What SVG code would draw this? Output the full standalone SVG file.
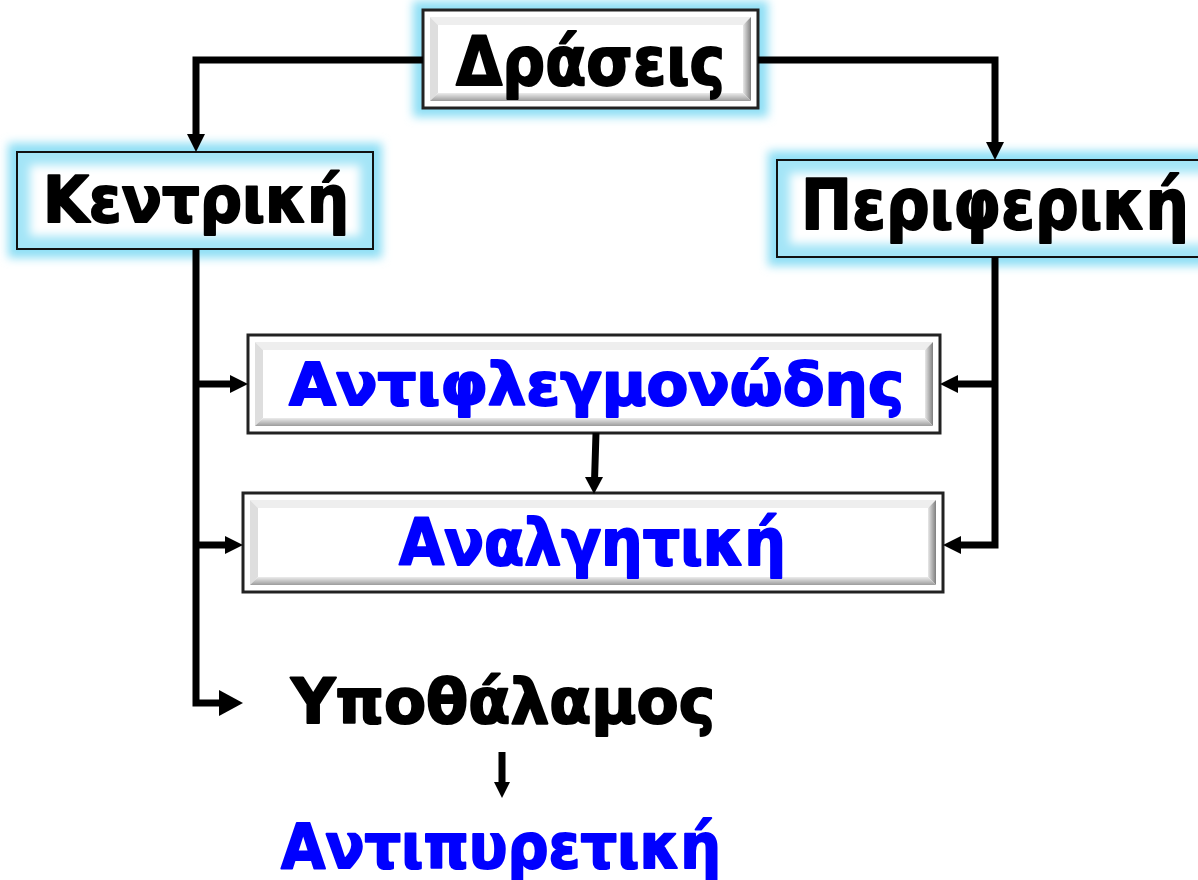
<svg xmlns="http://www.w3.org/2000/svg" width="1198" height="880" viewBox="0 0 1198 880">
<defs>
<style>
text{font-family:"DejaVu Sans","Liberation Sans",sans-serif;font-weight:bold;stroke-linejoin:round;}
.blk{fill:#000;stroke:#000;stroke-width:2;}
.blu{fill:#0000ff;stroke:#0000ff;stroke-width:2;}
.outer{fill:#fff;stroke:#222;stroke-width:3;}
.top{fill:#eeeeee;}
.left{fill:#dedede;}
.right{fill:url(#gr);}
.bottom{fill:url(#gb);}
.face{fill:#ffffff;}
.glow{fill:#8fdff5;filter:url(#blur6);}
.gbox{fill:#a4e5f7;stroke:#111;stroke-width:2;}
.gin{fill:#fff;filter:url(#blur5);}
.conn{fill:none;stroke:#000;stroke-width:7;stroke-linejoin:miter;}
.ah{fill:#000;}
</style>
<linearGradient id="gr" x1="0" y1="0" x2="1" y2="0"><stop offset="0" stop-color="#e8e8e8"/><stop offset="1" stop-color="#7f7f7f"/></linearGradient>
<linearGradient id="gb" x1="0" y1="0" x2="0" y2="1"><stop offset="0" stop-color="#ececec"/><stop offset="1" stop-color="#9c9c9c"/></linearGradient>
<filter id="blur6" x="-20%" y="-40%" width="140%" height="180%"><feGaussianBlur stdDeviation="5"/></filter>
<filter id="blur5" x="-20%" y="-40%" width="140%" height="180%"><feGaussianBlur stdDeviation="5"/></filter>
</defs>

<g id="draseis">
<rect class="glow" x="413" y="1" width="355" height="116"/>
<rect class="outer" x="423" y="10" width="335" height="98"/>
<polygon class="top" points="430,17 751,17 743,25 438,25"/>
<polygon class="left" points="430,17 438,25 438,93 430,101"/>
<polygon class="right" points="751,17 751,101 743,93 743,25"/>
<polygon class="bottom" points="430,101 751,101 743,93 438,93"/>
<rect class="face" x="438" y="25" width="305" height="68"/>
<text class="blk" x="456" y="85" font-size="68" textLength="269" lengthAdjust="spacingAndGlyphs">Δράσεις</text>
</g>

<g id="kentriki">
<rect class="glow" x="8" y="143" width="374" height="115"/>
<rect class="gbox" x="17" y="152" width="356" height="97"/>
<rect class="gin" x="30" y="165" width="330" height="71"/>
<text class="blk" x="43" y="222" font-size="64" textLength="306" lengthAdjust="spacingAndGlyphs">Κεντρική</text>
</g>

<g id="periferiki">
<rect class="glow" x="768" y="151" width="444" height="115"/>
<rect class="gbox" x="777" y="160" width="430" height="97"/>
<rect class="gin" x="790" y="173" width="420" height="71"/>
<text class="blk" x="801" y="229" font-size="70" textLength="388" lengthAdjust="spacingAndGlyphs">Περιφερική</text>
</g>

<g id="antiflegmonodis">
<rect class="outer" x="248" y="335" width="692" height="98"/>
<polygon class="top" points="255,342 933,342 925,350 263,350"/>
<polygon class="left" points="255,342 263,350 263,418 255,426"/>
<polygon class="right" points="933,342 933,426 925,418 925,350"/>
<polygon class="bottom" points="255,426 933,426 925,418 263,418"/>
<rect class="face" x="263" y="350" width="662" height="68"/>
<text class="blu" x="289" y="405" font-size="59" textLength="615" lengthAdjust="spacingAndGlyphs">Αντιφλεγμονώδης</text>
</g>

<g id="analgitiki">
<rect class="outer" x="243" y="493" width="700" height="99"/>
<polygon class="top" points="250,500 936,500 928,508 258,508"/>
<polygon class="left" points="250,500 258,508 258,577 250,585"/>
<polygon class="right" points="936,500 936,585 928,577 928,508"/>
<polygon class="bottom" points="250,585 936,585 928,577 258,577"/>
<rect class="face" x="258" y="508" width="670" height="69"/>
<text class="blu" x="399" y="565" font-size="64" textLength="387" lengthAdjust="spacingAndGlyphs">Αναλγητική</text>
</g>

<g id="ypothalamos">
<text class="blk" x="291" y="723" font-size="62" textLength="424" lengthAdjust="spacingAndGlyphs">Υποθάλαμος</text>
</g>

<g id="antipyretiki">
<text class="blu" x="281" y="868" font-size="63" textLength="440" lengthAdjust="spacingAndGlyphs">Αντιπυρετική</text>
</g>

<g id="connectors">
<path class="conn" d="M423,60 H196 V136"/>
<polygon class="ah" points="187,134 205,134 196,152"/>
<path class="conn" d="M758,60 H995 V144"/>
<polygon class="ah" points="986,142 1004,142 995,160"/>
<path class="conn" d="M196,249 V703 H222"/>
<polygon class="ah" points="219,690 243,703 219,716"/>
<path class="conn" d="M196,384 H232"/>
<polygon class="ah" points="230,375 248,384 230,393"/>
<path class="conn" d="M196,545 H227"/>
<polygon class="ah" points="225,536 243,545 225,554"/>
<path class="conn" d="M995,257 V545 H959"/>
<polygon class="ah" points="961,536 943,545 961,554"/>
<path class="conn" d="M995,384 H956"/>
<polygon class="ah" points="958,375 940,384 958,393"/>
<path class="conn" d="M596,433 L594.6,478" stroke-width="6"/>
<polygon class="ah" points="585,477 603,477 594,494"/>
<path class="conn" d="M502,752 V784" stroke-width="4"/>
<polygon class="ah" points="494,782 510,782 502,798"/>
</g>
</svg>
